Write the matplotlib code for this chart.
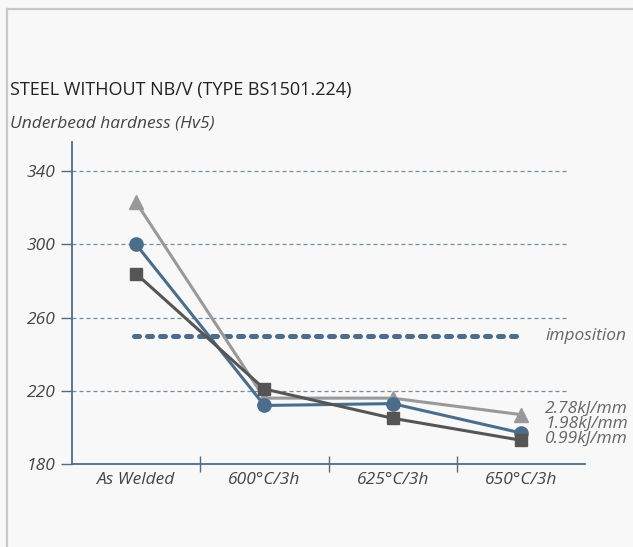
import matplotlib
matplotlib.use("Agg")
import matplotlib.pyplot as plt
from matplotlib.ticker import FixedLocator

plt.rcParams['font.family'] = ['Open Sans', 'DejaVu Sans']

categories = ["As Welded", "600°C/3h", "625°C/3h", "650°C/3h"]
series_labels = ["2.78kJ/mm", "1.98kJ/mm", "0.99kJ/mm"]
s_278 = [323, 216, 216, 207]
s_198 = [300, 212, 213, 197]
s_099 = [284, 221, 205, 193]
imposition = 250
yticks = [180, 220, 260, 300, 340]

BG = "#f8f8f8"
BLUE = "#4a6d8c"
GRAY = "#999999"
DARK = "#555555"
GRID = "#6f8ca5"
TXT = "#444444"

fig = plt.figure(figsize=(6.33, 5.47), dpi=100, facecolor=BG)
fig.add_artist(plt.Line2D([6.5/633, 6.5/633], [0, 1 - 8.5/547], color="#c8c8c8", lw=1.6))
fig.add_artist(plt.Line2D([6.5/633, 1], [1 - 8.5/547, 1 - 8.5/547], color="#c8c8c8", lw=1.6))

ax = fig.add_axes([72/633, 1 - 464/547, (585 - 72)/633, (464 - 142)/547])
ax.set_facecolor(BG)
x = list(range(len(categories)))

ax.set_xlim(-0.5, 3.5)
ax.set_ylim(180, 356)

for v in yticks[1:]:
    ax.plot([-0.5, 3.375], [v, v], color=GRID, lw=0.9, ls=(0, (3.2, 2.4)), zorder=1)

ax.plot([-0.02, 2.97], [imposition, imposition], color=BLUE, lw=3.6, ls=(0, (1.0, 1.6)),
        dash_capstyle='round', zorder=2)
ax.text(3.19, imposition, "imposition", style='italic', color="#666666", fontsize=12.5,
        va='center', ha='left')

ax.plot(x, s_278, color=GRAY, lw=2.2, marker='^', ms=9.5, zorder=3)
ax.plot(x, s_198, color=BLUE, lw=2.2, marker='o', ms=9.5, zorder=4)
ax.plot(x, s_099, color=DARK, lw=2.2, marker='s', ms=8.5, zorder=5)

label_y = [210, 202, 194]
for lab, yy in zip(series_labels, label_y):
    ax.text(3.19, yy, lab, style='italic', color="#666666", fontsize=12.5, va='center', ha='left',
            clip_on=False)

for s in ['top', 'right']:
    ax.spines[s].set_visible(False)
for s in ['left', 'bottom']:
    ax.spines[s].set_color(BLUE)
    ax.spines[s].set_linewidth(1.3)

ax.set_yticks(yticks)
ax.set_yticklabels([str(v) for v in yticks], style='italic', color=TXT, fontsize=12.5)
ax.tick_params(axis='y', length=8, width=1, color=BLUE, pad=4)

ax.set_xticks(x)
ax.set_xticklabels(categories, style='italic', color=TXT, fontsize=12.5)
ax.tick_params(axis='x', which='major', length=0, pad=6)
ax.xaxis.set_minor_locator(FixedLocator([0.5, 1.5, 2.5]))
ax.tick_params(axis='x', which='minor', length=12, width=1, color=BLUE, direction='inout')

fig.text(10/633, 1 - 90/547, "STEEL WITHOUT NB/V (TYPE BS1501.224)", fontsize=13,
         color="#222222", va='center', ha='left')
fig.text(10/633, 1 - 124/547, "Underbead hardness (Hv5)", fontsize=12.5, style='italic',
         color=TXT, va='center', ha='left')

fig.savefig("out.png", dpi=100, facecolor=BG)
